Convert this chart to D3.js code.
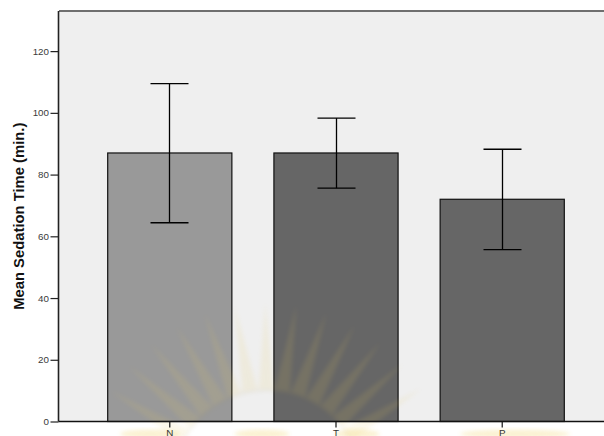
<!DOCTYPE html>
<html>
<head>
<meta charset="utf-8">
<script src="https://cdn.jsdelivr.net/npm/d3@7"></script>
<style>
  html, body { margin: 0; padding: 0; background: #ffffff; }
  svg { display: block; }
  text { font-family: "Liberation Sans", Arial, sans-serif; }
</style>
</head>
<body>
<svg id="chart" width="604" height="436"></svg>
<script>
// Sedation groups and their mean sedation time with error bar limits (minutes)
const groups = ["N", "T", "P"];
const means = [87.0, 87.0, 72.0];
const upper = [109.5, 98.3, 88.2];
const lower = [64.4, 75.6, 55.7];
const barColors = ["#999999", "#666666", "#666666"];
const yTicks = [0, 20, 40, 60, 80, 100, 120];
const yTitle = "Mean Sedation Time (min.)";

const plot = { left: 59, right: 612, top: 11, bottom: 421.5 };

const svg = d3.select("#chart");

const x = d3.scaleBand()
  .domain(groups)
  .range([plot.left, plot.right])
  .paddingInner(0.253)
  .paddingOuter(0.29);

const y = d3.scaleLinear()
  .domain([0, 133])
  .range([plot.bottom, plot.top]);

// plot background
svg.append("rect")
  .attr("x", plot.left)
  .attr("y", plot.top)
  .attr("width", plot.right - plot.left)
  .attr("height", plot.bottom - plot.top)
  .attr("fill", "#efefef");

// top frame line
svg.append("line")
  .attr("x1", plot.left).attr("x2", plot.right)
  .attr("y1", plot.top).attr("y2", plot.top)
  .attr("stroke", "#6f6f6f").attr("stroke-width", 2);

// bars
const idx = d3.range(groups.length);
svg.append("g").selectAll("rect")
  .data(idx)
  .join("rect")
  .attr("x", i => x(groups[i]) + 0.5)
  .attr("y", i => y(means[i]))
  .attr("width", x.bandwidth())
  .attr("height", i => y(0) - y(means[i]))
  .attr("fill", i => barColors[i])
  .attr("stroke", "#111")
  .attr("stroke-width", 1.2);

// decorative sunburst emblem behind the lower part of the chart
const defs = svg.append("defs");
defs.append("filter").attr("id", "soft")
  .attr("x", "-20%").attr("y", "-20%").attr("width", "140%").attr("height", "140%")
  .append("feGaussianBlur").attr("stdDeviation", 2.2);
const emblem = svg.append("g")
  .attr("filter", "url(#soft)")
  .attr("opacity", 0.12);
const ecx = 267, ecy = 485, rIn = 95, rOut = 182;
const rayAngles = d3.range(13).map(k => -149 + k * (117 / 12));
rayAngles.forEach(a => {
  const t = a * Math.PI / 180, hw = 4.6 * Math.PI / 180;
  const p = [
    [ecx + rIn * Math.cos(t - hw), ecy + rIn * Math.sin(t - hw)],
    [ecx + rOut * Math.cos(t), ecy + rOut * Math.sin(t)],
    [ecx + rIn * Math.cos(t + hw), ecy + rIn * Math.sin(t + hw)]
  ];
  emblem.append("path")
    .attr("d", d3.line()(p) + "Z")
    .attr("fill", "#e6c95a");
});
emblem.append("circle")
  .attr("cx", ecx).attr("cy", ecy).attr("r", rIn)
  .attr("fill", "none").attr("stroke", "#9a8a50").attr("stroke-width", 2);
// faint gold lettering band under the axis
const band = svg.append("g").attr("filter", "url(#soft)").attr("opacity", 0.28);
[[150, 60], [262, 55], [357, 45], [515, 110]].forEach(([cx, w]) => {
  band.append("ellipse")
    .attr("cx", cx).attr("cy", 434).attr("rx", w / 2).attr("ry", 4.5)
    .attr("fill", "#f0d060");
});

// error bars
const capHalf = 19;
const eb = svg.append("g").attr("stroke", "#000").attr("stroke-width", 1.3);
idx.forEach(i => {
  const cx = Math.round(x(groups[i]) + x.bandwidth() / 2) + 0.5;
  eb.append("line").attr("x1", cx).attr("x2", cx)
    .attr("y1", y(upper[i])).attr("y2", y(lower[i]));
  eb.append("line").attr("x1", cx - capHalf).attr("x2", cx + capHalf)
    .attr("y1", y(upper[i])).attr("y2", y(upper[i]));
  eb.append("line").attr("x1", cx - capHalf).attr("x2", cx + capHalf)
    .attr("y1", y(lower[i])).attr("y2", y(lower[i]));
});

// y axis
const yAxis = d3.axisLeft(y).tickValues(yTicks).tickSize(8).tickPadding(1.5);
const gy = svg.append("g")
  .attr("transform", `translate(${plot.left - 0.5},0)`)
  .call(yAxis);
gy.select(".domain").attr("stroke", "#222").attr("stroke-width", 1.6)
  .attr("d", `M0,${plot.top}V${plot.bottom}`);
gy.selectAll(".tick line").attr("stroke", "#222").attr("stroke-width", 1.2);
gy.selectAll(".tick text")
  .attr("fill", "#3a3a3a")
  .style("font-size", "9.8px")
  .style("font-family", "'Liberation Sans', Arial, sans-serif");

// x axis
const xAxis = d3.axisBottom(x).tickSize(6).tickPadding(2).tickSizeOuter(0);
const gx = svg.append("g")
  .attr("transform", `translate(0.5,${plot.bottom})`)
  .call(xAxis);
gx.select(".domain").attr("stroke", "#111").attr("stroke-width", 1.4)
  .attr("d", `M${plot.left - 1},0H${plot.right}`);
gx.selectAll(".tick line").attr("stroke", "#111").attr("stroke-width", 1.2);
gx.selectAll(".tick text")
  .attr("fill", "#333")
  .style("font-size", "9.8px")
  .style("font-family", "'Liberation Sans', Arial, sans-serif");

// y axis title
svg.append("text")
  .attr("transform", `translate(23.5,${(plot.top + plot.bottom) / 2}) rotate(-90)`)
  .attr("text-anchor", "middle")
  .attr("fill", "#111")
  .style("font-size", "14.8px")
  .style("font-weight", "bold")
  .text(yTitle);
</script>
</body>
</html>
